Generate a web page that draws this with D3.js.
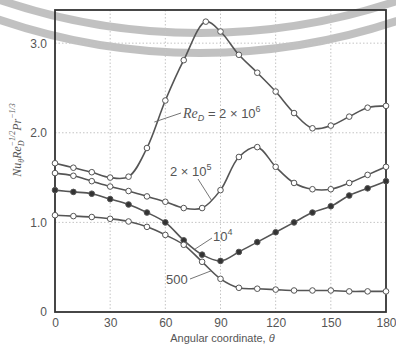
<!DOCTYPE html>
<html>
<head>
<meta charset="utf-8">
<script src="https://cdn.jsdelivr.net/npm/d3@7"></script>
<style>
  body { margin: 0; background: #fff; }
  svg { display: block; }
</style>
</head>
<body>
<div id="chart"></div>
<script>
// Angular positions (degrees) where points were measured
var thetas = [0, 10, 20, 30, 40, 50, 60, 70, 80, 90, 100, 110, 120, 130, 140, 150, 160, 170, 180];
// the 2x10^6 curve peaks a bit after 80
var thetasHigh = [0, 10, 20, 30, 40, 50, 60, 70, 82, 90, 100, 110, 120, 130, 140, 150, 160, 170, 180];

// Nu Re^-1/2 Pr^-1/3
var re2e6 = [1.66, 1.61, 1.56, 1.50, 1.51, 1.83, 2.36, 2.81, 3.24, 3.13, 2.87, 2.67, 2.46, 2.22, 2.05, 2.08, 2.18, 2.28, 2.30];
var re2e5 = [1.55, 1.52, 1.46, 1.40, 1.35, 1.29, 1.23, 1.16, 1.16, 1.36, 1.73, 1.84, 1.62, 1.44, 1.37, 1.37, 1.44, 1.53, 1.62];
var re1e4 = [1.36, 1.34, 1.32, 1.26, 1.20, 1.11, 1.00, 0.80, 0.64, 0.57, 0.67, 0.78, 0.89, 1.00, 1.11, 1.18, 1.30, 1.38, 1.46];
var re500 = [1.08, 1.07, 1.06, 1.04, 1.01, 0.95, 0.86, 0.75, 0.56, 0.37, 0.27, 0.26, 0.25, 0.24, 0.24, 0.24, 0.23, 0.23, 0.23];

var xTicks = [0, 30, 60, 90, 120, 150, 180];
var yTicks = [0, 1, 2, 3];
var yTickLabels = ["0", "1.0", "2.0", "3.0"];

var svgWidth = 396, svgHeight = 347;
var plot = { left: 55, right: 386, top: 10, bottom: 312 };

var svg = d3.select("#chart").append("svg")
  .attr("width", svgWidth)
  .attr("height", svgHeight);

// faint watermark arcs in the scan
var wm = svg.append("g").attr("fill", "none").attr("stroke", "#a8a8a8")
  .attr("stroke-width", 8).attr("opacity", 0.7);
wm.append("circle").attr("cx", 200).attr("cy", -589).attr("r", 622);
wm.append("circle").attr("cx", 200).attr("cy", -569).attr("r", 622);

var x = d3.scaleLinear().domain([0, 180]).range([plot.left, plot.right]);
var y = d3.scaleLinear().domain([0, 3.37]).range([plot.bottom, plot.top]);

// grid lines
var grid = svg.append("g").attr("stroke", "#c4c4c4").attr("stroke-width", 1)
  .attr("stroke-dasharray", "1.5,2");
xTicks.slice(1, -1).forEach(function(t) {
  grid.append("line").attr("x1", x(t)).attr("x2", x(t))
    .attr("y1", plot.top).attr("y2", plot.bottom);
});
yTicks.slice(1).forEach(function(t) {
  grid.append("line").attr("x1", plot.left).attr("x2", plot.right)
    .attr("y1", y(t)).attr("y2", y(t));
});

// axes (labels only, no tick marks)
var bottomAxis = d3.axisBottom(x).tickValues(xTicks).tickSize(0).tickPadding(6);
var leftAxis = d3.axisLeft(y).tickValues(yTicks).tickSize(0).tickPadding(8)
  .tickFormat(function(d, i) { return yTickLabels[i]; });

var gx = svg.append("g").attr("transform", "translate(0," + plot.bottom + ")").call(bottomAxis);
var gy = svg.append("g").attr("transform", "translate(" + plot.left + ",0)").call(leftAxis);
[gx, gy].forEach(function(g) {
  g.select(".domain").remove();
  g.selectAll("text").attr("fill", "#555").style("font-family", "Liberation Sans, Arial, sans-serif")
    .style("font-size", "12px");
});

// frame
svg.append("rect")
  .attr("x", plot.left).attr("y", plot.top)
  .attr("width", plot.right - plot.left).attr("height", plot.bottom - plot.top)
  .attr("fill", "none").attr("stroke", "#333").attr("stroke-width", 1.8);

// curves
var series = [
  { th: thetasHigh, v: re2e6, filled: false },
  { th: thetas, v: re2e5, filled: false },
  { th: thetas, v: re1e4, filled: true },
  { th: thetas, v: re500, filled: false }
];

var line = d3.line()
  .x(function(d) { return x(d[0]); })
  .y(function(d) { return y(d[1]); })
  .curve(d3.curveCatmullRom.alpha(0.5));

series.forEach(function(s) {
  var pts = s.th.map(function(t, i) { return [t, s.v[i]]; });
  svg.append("path").datum(pts)
    .attr("d", line)
    .attr("fill", "none")
    .attr("stroke", "#555")
    .attr("stroke-width", 1.6);
  svg.selectAll(null).data(pts).enter().append("circle")
    .attr("cx", function(d) { return x(d[0]); })
    .attr("cy", function(d) { return y(d[1]); })
    .attr("r", 2.8)
    .attr("fill", s.filled ? "#333" : "#fff")
    .attr("stroke", "#555")
    .attr("stroke-width", 1);
});

// curve labels with leader lines
var lab = svg.append("g").attr("fill", "#555")
  .style("font-family", "Liberation Sans, Arial, sans-serif").style("font-size", "13px");
var leaders = svg.append("g").attr("stroke", "#666").attr("stroke-width", 0.9);

function leader(t1, v1, x2, y2) {
  leaders.append("line").attr("x1", x(t1)).attr("y1", y(v1)).attr("x2", x2).attr("y2", y2);
}

var t6 = lab.append("text").attr("x", 183).attr("y", 118);
t6.append("tspan").text("Re").style("font-style", "italic").style("font-family", "Liberation Serif, serif").style("font-size", "14px");
t6.append("tspan").text("D").attr("dy", 3).style("font-style", "italic").style("font-size", "9px");
t6.append("tspan").text(" = 2 \u00d7 10").attr("dy", -3);
t6.append("tspan").text("6").attr("dy", -6).style("font-size", "9px");
leader(54, 2.12, 181, 113);

var t5 = lab.append("text").attr("x", 170).attr("y", 176);
t5.append("tspan").text("2 \u00d7 10");
t5.append("tspan").text("5").attr("dy", -6).style("font-size", "9px");
leader(85, 1.25, 198, 179);

var t4 = lab.append("text").attr("x", 213).attr("y", 241);
t4.append("tspan").text("10");
t4.append("tspan").text("4").attr("dy", -6).style("font-size", "9px");
leader(76, 0.70, 212, 238);

lab.append("text").attr("x", 166).attr("y", 284).text("500");
leader(85, 0.46, 190, 279);

// axis titles
var xt = svg.append("text")
  .attr("x", (plot.left + plot.right) / 2 + 2).attr("y", 342)
  .attr("text-anchor", "middle").attr("fill", "#555")
  .style("font-family", "Liberation Sans, Arial, sans-serif").style("font-size", "11px");
xt.append("tspan").text("Angular coordinate, ");
xt.append("tspan").text("\u03b8").style("font-style", "italic");

var yt = svg.append("text")
  .attr("transform", "translate(21,140) rotate(-90)")
  .attr("text-anchor", "middle").attr("fill", "#555")
  .style("font-family", "Liberation Serif, serif").style("font-size", "12px").style("font-style", "italic");
yt.append("tspan").text("Nu");
yt.append("tspan").text("\u03b8").attr("dy", 3).style("font-size", "8px");
yt.append("tspan").text("Re").attr("dy", -3);
yt.append("tspan").text("D").attr("dy", 3).style("font-size", "8px");
yt.append("tspan").text("\u22121/2").attr("dx", -6).attr("dy", -9).style("font-size", "8px");
yt.append("tspan").text("Pr").attr("dy", 6);
yt.append("tspan").text("\u22121/3").attr("dy", -6).style("font-size", "8px");
</script>
</body>
</html>
